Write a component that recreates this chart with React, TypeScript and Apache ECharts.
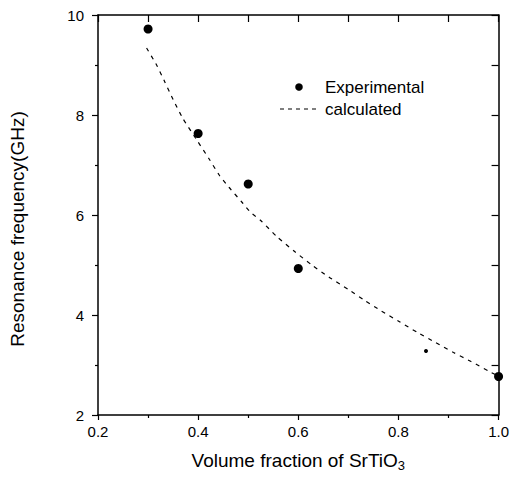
import React, { useEffect, useRef } from "react";
import * as echarts from "echarts";

const FONT = "'Liberation Sans', Arial, sans-serif";

const xTicks = ["0.2", "0.4", "0.6", "0.8", "1.0"];
const yTicks = ["2", "4", "6", "8", "10"];
const legendNames = ["Experimental", "calculated"];

const expX = [0.3, 0.4, 0.5, 0.6, 0.855, 1.0];
const expY = [9.72, 7.63, 6.62, 4.93, 3.28, 2.77];
const expSize = [9, 9, 9, 9, 4, 9];

const calcX = [0.297, 0.317, 0.333, 0.35, 0.369, 0.396, 0.422, 0.442, 0.462, 0.488, 0.505, 0.525, 0.558, 0.594, 0.627, 0.661, 0.7, 0.733, 0.766, 0.803, 0.838, 0.874, 0.91, 0.945, 0.98, 0.995];
const calcY = [9.34, 9.0, 8.67, 8.31, 7.94, 7.52, 7.12, 6.8, 6.55, 6.25, 6.05, 5.89, 5.56, 5.26, 5.0, 4.76, 4.51, 4.29, 4.08, 3.86, 3.65, 3.45, 3.25, 3.07, 2.88, 2.8];

export default function App() {
  const ref = useRef<HTMLDivElement>(null);
  useEffect(() => {
    document.body.style.margin = "0";
    const chart = echarts.init(ref.current!, null, { renderer: "svg" });
    const axisLine = { show: true, lineStyle: { color: "#000", width: 1.5 } };
    const tickStyle = { color: "#000", width: 1.2 };
    const legendText = { fontSize: 17, fontFamily: FONT, fill: "#000", textAlign: "left", textVerticalAlign: "middle" };
    chart.setOption({
      animation: false,
      backgroundColor: "#fff",
      grid: { left: 98, right: 11, top: 15, bottom: 60 },
      graphic: [
        {
          type: "text",
          x: 17,
          y: 229,
          rotation: Math.PI / 2,
          style: {
            text: "Resonance frequency(GHz)",
            fontSize: 19,
            fontFamily: FONT,
            fill: "#000",
            textAlign: "center",
            textVerticalAlign: "middle",
          },
        },
        { type: "circle", shape: { cx: 299, cy: 87, r: 3.8 }, style: { fill: "#000" } },
        { type: "text", x: 325, y: 87, style: { ...legendText, text: legendNames[0] } },
        {
          type: "line",
          shape: { x1: 280, y1: 109, x2: 318, y2: 109 },
          style: { stroke: "#000", lineWidth: 1.2, lineDash: [4, 4] },
        },
        { type: "text", x: 325, y: 109, style: { ...legendText, text: legendNames[1] } },
      ],
      xAxis: [
        {
          type: "value",
          position: "bottom",
          min: 0.2,
          max: 1.0,
          interval: 0.2,
          axisLine,
          axisTick: { show: true, inside: false, length: 5, lineStyle: tickStyle },
          minorTick: { show: true, splitNumber: 2, length: 3, lineStyle: tickStyle },
          splitLine: { show: false },
          axisLabel: {
            fontSize: 15,
            color: "#000",
            fontFamily: FONT,
            margin: 9,
            formatter: (v: number) => xTicks[Math.round((v - 0.2) / 0.2)] ?? "",
          },
          name: "{a|Volume fraction of SrTiO}{b|3}",
          nameLocation: "middle",
          nameGap: 33,
          nameTextStyle: {
            rich: {
              a: { fontSize: 19, fontFamily: FONT, color: "#000", lineHeight: 24, verticalAlign: "middle" },
              b: { fontSize: 13, fontFamily: FONT, color: "#000", lineHeight: 13, verticalAlign: "bottom" },
            },
          },
        },
        {
          type: "value",
          position: "top",
          min: 0.2,
          max: 1.0,
          interval: 0.1,
          axisLine,
          axisTick: { show: true, inside: true, length: 7, lineStyle: tickStyle },
          axisLabel: { show: false },
          splitLine: { show: false },
        },
      ],
      yAxis: [
        {
          type: "value",
          position: "left",
          min: 2,
          max: 10,
          interval: 2,
          axisLine,
          axisTick: { show: true, inside: false, length: 6, lineStyle: tickStyle },
          minorTick: { show: true, splitNumber: 2, length: 3, lineStyle: tickStyle },
          splitLine: { show: false },
          axisLabel: {
            fontSize: 15,
            color: "#000",
            fontFamily: FONT,
            margin: 14,
            formatter: (v: number) => yTicks[Math.round((v - 2) / 2)] ?? "",
          },
        },
        {
          type: "value",
          position: "right",
          min: 2,
          max: 10,
          interval: 1,
          axisLine,
          axisTick: { show: true, inside: true, length: 7, lineStyle: tickStyle },
          axisLabel: { show: false },
          splitLine: { show: false },
        },
      ],
      series: [
        {
          name: legendNames[0],
          type: "scatter",
          xAxisIndex: 0,
          yAxisIndex: 0,
          itemStyle: { color: "#000", opacity: 1 },
          data: expX.map((x, i) => ({ value: [x, expY[i]], symbolSize: expSize[i] })),
          symbolSize: 9,
        },
        {
          name: legendNames[1],
          type: "line",
          xAxisIndex: 0,
          yAxisIndex: 0,
          symbol: "none",
          showSymbol: false,
          smooth: 0.2,
          itemStyle: { color: "#000" },
          lineStyle: { color: "#000", width: 1.2, type: [4, 5] },
          data: calcX.map((x, i) => [x, calcY[i]]),
        },
      ],
    });
    return () => chart.dispose();
  }, []);
  return <div ref={ref} style={{ width: 512, height: 477 }} />;
}
